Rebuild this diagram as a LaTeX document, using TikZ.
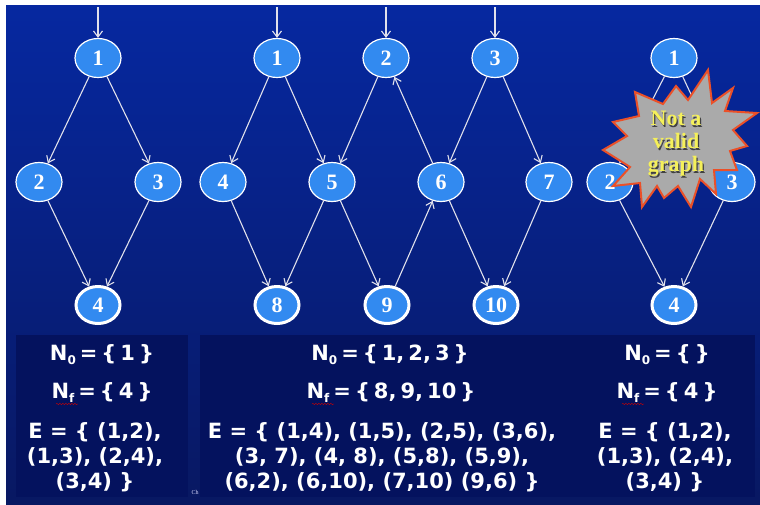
\documentclass[tikz,border=0pt]{standalone}
\usepackage{fontspec}
\setmainfont{Liberation Serif}
\newfontfamily\verd{DejaVu Sans}
\usetikzlibrary{shapes.geometric,arrows.meta,decorations.pathmorphing}
\definecolor{bgtop}{RGB}{6,40,160}
\definecolor{bgbot}{RGB}{8,24,98}
\definecolor{panel}{RGB}{4,18,94}
\definecolor{nodeblue}{RGB}{50,138,240}
\definecolor{edgegray}{RGB}{225,225,235}
\definecolor{burstgray}{RGB}{170,170,170}
\definecolor{burstred}{RGB}{235,80,40}
\definecolor{burstyellow}{RGB}{245,240,90}
\newcommand{\sub}[1]{\raisebox{-4pt}{\fontsize{12}{12}\selectfont #1}}
\newcommand{\tsp}{\spaceskip=4pt plus 1pt\relax}
\tikzset{
  gnode/.style={ellipse, draw=white, line width=1.2pt, fill=nodeblue,
    minimum width=46pt, minimum height=39pt, inner sep=0pt, text=white,
    font=\bfseries\fontsize{22}{22}\selectfont},
  fnode/.style={gnode, line width=3pt, minimum width=44pt, minimum height=37pt},
  edge/.style={draw=edgegray, line width=1.1pt, -{Straight Barb[length=6pt,width=9pt]}},
  info/.style={text=white, align=center, font=\verd\bfseries\fontsize{21}{25}\selectfont},
  bursttext/.style={align=center, font=\rmfamily\bfseries\fontsize{22}{23}\selectfont}
}
\begin{document}
\begin{tikzpicture}[x=1pt,y=-1pt]
\useasboundingbox (0,0) rectangle (760,504);
\fill[white] (0,0) rectangle (760,504);
\shade[top color=bgtop, bottom color=bgbot] (6,5) rectangle (760,504);
% text panels
\fill[panel] (16,335) rectangle (188,497);
\fill[panel] (200,335) rectangle (755,497);

% left graph
\node[gnode] (L1) at (98,58) {1};
\node[gnode] (L2) at (39,182) {2};
\node[gnode] (L3) at (158,182) {3};
\node[fnode] (L4) at (98,305) {4};
\coordinate (iL1) at (98,7);
\draw[edge] (iL1) -- (L1);
\draw[edge] (L1) -- (L2);
\draw[edge] (L1) -- (L3);
\draw[edge] (L2) -- (L4);
\draw[edge] (L3) -- (L4);

% middle graph
\node[gnode] (M1) at (277,58) {1};
\node[gnode] (M2) at (386,58) {2};
\node[gnode] (M3) at (495,58) {3};
\node[gnode] (M4) at (223,182) {4};
\node[gnode] (M5) at (332,182) {5};
\node[gnode] (M6) at (441,182) {6};
\node[gnode] (M7) at (549,182) {7};
\node[fnode] (M8) at (277,305) {8};
\node[fnode] (M9) at (387,305) {9};
\node[fnode] (M10) at (496,305) {10};
\coordinate (iM1) at (277,7);
\coordinate (iM2) at (386,7);
\coordinate (iM3) at (495,7);
\draw[edge] (iM1) -- (M1);
\draw[edge] (iM2) -- (M2);
\draw[edge] (iM3) -- (M3);
\draw[edge] (M1) -- (M4);
\draw[edge] (M1) -- (M5);
\draw[edge] (M2) -- (M5);
\draw[edge] (M3) -- (M6);
\draw[edge] (M3) -- (M7);
\draw[edge] (M4) -- (M8);
\draw[edge] (M5) -- (M8);
\draw[edge] (M5) -- (M9);
\draw[edge] (M6) -- (M2);
\draw[edge] (M6) -- (M10);
\draw[edge] (M7) -- (M10);
\draw[edge] (M9) -- (M6);

% right graph
\node[gnode] (R1) at (674,58) {1};
\node[gnode] (R2) at (610,182) {2};
\node[gnode] (R3) at (732,182) {3};
\node[fnode] (R4) at (674,305) {4};
\draw[edge] (R1) -- (R2);
\draw[edge] (R1) -- (R3);
\draw[edge] (R2) -- (R4);
\draw[edge] (R3) -- (R4);

% starburst
\filldraw[fill=burstgray, draw=burstred, line width=2pt, line join=miter, miter limit=20]
  (635,92) -- (663,104) -- (676,86) -- (688,100) -- (708,70) -- (712,103)
  -- (733,88) -- (725,111) -- (757,113) -- (733,130) -- (747,146) -- (730,151)
  -- (737,170) -- (714,170) -- (716,194) -- (700,179) -- (691,207) -- (678,186)
  -- (664,198) -- (657,186) -- (642,207) -- (640,183) -- (613,186) -- (630,167)
  -- (603,150) -- (627,136) -- (613,122) -- (639,116) -- cycle;
\node[bursttext, text=black!75] (bshadow) at (677.3,145.3) {Not a\\valid\\graph};
\node[bursttext, text=burstyellow] (btext) at (676,144) {Not a\\valid\\graph};

% info texts
\node[info] (LN0) at (102,355) {\tsp N\sub{0} = \{ 1 \}};
\node[info] (LNf) at (102,393) {\tsp N\sub{f} = \{ 4 \}};
\node[info] (LE) at (95,457) {E = \{ (1,2),\\(1,3), (2,4),\\(3,4) \}};
\node[info] (MN0) at (390,355) {\tsp N\sub{0} = \{ 1, 2, 3 \}};
\node[info] (MNf) at (391,393) {\tsp N\sub{f} = \{ 8, 9, 10 \}};
\node[info] (ME) at (382,457) {E = \{ (1,4), (1,5), (2,5), (3,6),\\(3, 7), (4, 8), (5,8), (5,9),\\(6,2), (6,10), (7,10) (9,6) \}};
\node[info] (RN0) at (667,355) {\tsp N\sub{0} = \{ \}};
\node[info] (RNf) at (667,393) {\tsp N\sub{f} = \{ 4 \}};
\node[info] (RE) at (665,457) {E = \{ (1,2),\\(1,3), (2,4),\\(3,4) \}};
\draw[red!80!black, decorate, decoration={snake, amplitude=0.7pt, segment length=3pt}] (56,404) -- (78,404);
\draw[red!80!black, decorate, decoration={snake, amplitude=0.7pt, segment length=3pt}] (312,404) -- (334,404);
\draw[red!80!black, decorate, decoration={snake, amplitude=0.7pt, segment length=3pt}] (622,404) -- (644,404);
\node[text=white!85!blue, font=\fontsize{6}{6}\selectfont, inner sep=0.5pt] (ch) at (195,492) {Ch};
\end{tikzpicture}
\end{document}
